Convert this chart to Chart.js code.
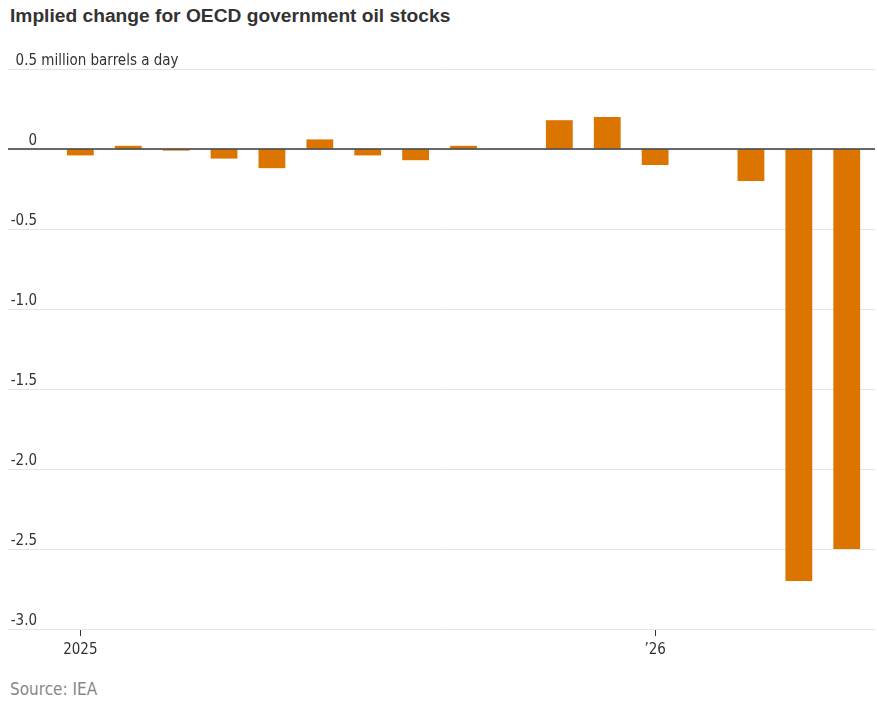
<!DOCTYPE html>
<html>
<head>
<meta charset="utf-8">
<script src="https://cdn.jsdelivr.net/npm/chart.js@4.4.1/dist/chart.umd.min.js"></script>
<style>
    body { margin: 0; background: #fff; width: 877px; height: 704px; position: relative; overflow: hidden; }
    #title { position: absolute; left: 10px; top: 5px; font: bold 19.2px 'Liberation Sans', Arial, sans-serif; color: #333; }
    #source { position: absolute; left: 10px; top: 679px; font: 17px 'Liberation Sans Narrow', 'DejaVu Sans Condensed', sans-serif; color: #888; }
    #wrap { position: absolute; left: 0; top: 40px; width: 877px; height: 630px; }
</style>
</head>
<body>
<div id="title">Implied change for OECD government oil stocks</div>
<div id="wrap"><canvas id="chart"></canvas></div>
<div id="source">Source: IEA</div>
<script>
// monthly values, million barrels a day
const months = ['Jan 2025', 'Feb 2025', 'Mar 2025', 'Apr 2025', 'May 2025', 'Jun 2025', 'Jul 2025', 'Aug 2025',
    'Sep 2025', 'Oct 2025', 'Nov 2025', 'Dec 2025', 'Jan 2026', 'Feb 2026', 'Mar 2026', 'Apr 2026', 'May 2026'];
const stockChange = [-0.04, 0.02, -0.01, -0.06, -0.12, 0.06, -0.04, -0.07,
    0.02, 0, 0.18, 0.20, -0.10, 0, -0.20, -2.70, -2.50];

const xTickIdx = [0, 12];
const xTickLabels = ['2025', '\u201926'];

const yTicks = [0.5, 0, -0.5, -1, -1.5, -2, -2.5, -3];
const yTickLabels = ['0.5', '0', '-0.5', '-1.0', '-1.5', '-2.0', '-2.5', '-3.0'];
const yUnit = ' million barrels a day';

const narrowFont = "'Liberation Sans Narrow', 'DejaVu Sans Condensed', sans-serif";

// y labels sit above their grid line, plus the dark zero line over the bars
const overlayPlugin = {
    id: 'overlay',
    afterDatasetsDraw(chart) {
        const ctx = chart.ctx;
        const y = chart.scales.y;
        const area = chart.chartArea;
        ctx.save();
        const y0 = y.getPixelForValue(0);
        ctx.strokeStyle = '#3a3a3a';
        ctx.lineWidth = 1.6;
        ctx.beginPath();
        ctx.moveTo(area.left, y0);
        ctx.lineTo(area.right, y0);
        ctx.stroke();

        ctx.font = '15px ' + narrowFont;
        ctx.fillStyle = '#333';
        ctx.textBaseline = 'alphabetic';
        yTicks.forEach(function (v, i) {
            const py = y.getPixelForValue(v) - 4;
            ctx.textAlign = 'right';
            ctx.fillText(yTickLabels[i], 37, py);
            if (i === 0) {
                ctx.textAlign = 'left';
                ctx.fillText(yUnit, 37, py);
            }
        });
        ctx.restore();
    }
};

new Chart(document.getElementById('chart'), {
    type: 'bar',
    data: {
        datasets: [{
            label: 'Implied change',
            data: stockChange.map((v, i) => ({ x: i, y: v, month: months[i] })),
            backgroundColor: '#dc7400',
            borderWidth: 0,
            barPercentage: 0.56,
            categoryPercentage: 1
        }]
    },
    options: {
        responsive: true,
        maintainAspectRatio: false,
        animation: false,
        layout: { padding: { left: 8, right: 2, top: 29, bottom: 0 } },
        plugins: {
            legend: { display: false },
            tooltip: { enabled: false }
        },
        scales: {
            x: {
                type: 'linear',
                min: -1.51,
                max: 16.59,
                offset: false,
                afterBuildTicks: (s) => { s.ticks = xTickIdx.map(v => ({ value: v })); },
                afterFit: (s) => { s.height = 41; },
                ticks: {
                    autoSkip: false,
                    maxRotation: 0,
                    padding: 5,
                    color: '#333',
                    font: { family: narrowFont, size: 15 },
                    callback: (v) => xTickLabels[xTickIdx.indexOf(v)]
                },
                grid: {
                    offset: false,
                    drawOnChartArea: false,
                    drawTicks: true,
                    tickLength: 7,
                    tickColor: '#333',
                    tickWidth: 1
                },
                border: { display: false }
            },
            y: {
                min: -3,
                max: 0.5,
                afterBuildTicks: (s) => { s.ticks = yTicks.map(v => ({ value: v })); },
                afterFit: (s) => { s.width = 0; },
                ticks: { display: false },
                grid: { color: '#e4e4e4', lineWidth: 1, drawTicks: false },
                border: { display: false }
            }
        }
    },
    plugins: [overlayPlugin]
});
</script>
</body>
</html>
